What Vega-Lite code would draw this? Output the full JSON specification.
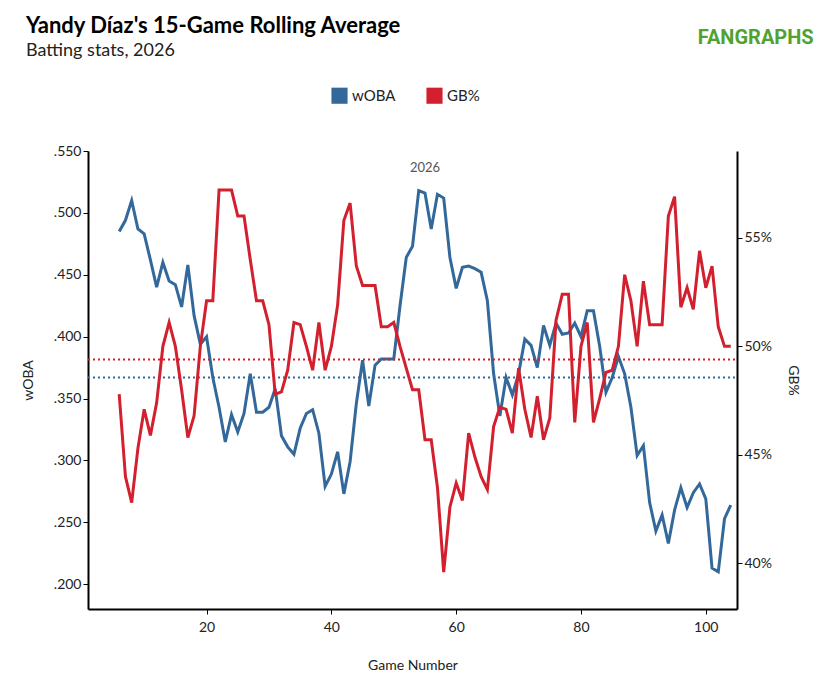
{
  "$schema": "https://vega.github.io/schema/vega-lite/v6.json",
  "autosize": "none",
  "width": 649,
  "height": 458,
  "padding": {"left": 88, "top": 151, "right": 103, "bottom": 77},
  "config": {
    "font": "Lato",
    "view": {"stroke": null},
    "axis": {"grid": false, "domainColor": "#000", "domainWidth": 2, "tickColor": "#000", "labelFontSize": 14, "labelColor": "#222", "titleFontSize": 14, "titleFontWeight": "normal", "titleColor": "#222"}
  },
  "title": {
    "text": "Yandy Díaz's 15-Game Rolling Average",
    "subtitle": "Batting stats, 2026",
    "anchor": "start",
    "frame": "group",
    "dx": -62,
    "offset": -33,
    "fontSize": 22,
    "fontWeight": "bold",
    "subtitleFontSize": 18,
    "subtitleColor": "#222",
    "subtitlePadding": 4
  },
  "data": {
    "values": [
      {"game": 6, "woba": 0.485, "gb": 47.8}, {"game": 7, "woba": 0.494, "gb": 44.0}, {"game": 8, "woba": 0.510, "gb": 42.8},
      {"game": 9, "woba": 0.487, "gb": 45.3}, {"game": 10, "woba": 0.483, "gb": 47.1}, {"game": 11, "woba": 0.462, "gb": 45.9},
      {"game": 12, "woba": 0.440, "gb": 47.4}, {"game": 13, "woba": 0.460, "gb": 50.0}, {"game": 14, "woba": 0.445, "gb": 51.1},
      {"game": 15, "woba": 0.442, "gb": 50.0}, {"game": 16, "woba": 0.424, "gb": 48.0}, {"game": 17, "woba": 0.458, "gb": 45.8},
      {"game": 18, "woba": 0.417, "gb": 46.8}, {"game": 19, "woba": 0.394, "gb": 50.0}, {"game": 20, "woba": 0.400, "gb": 52.1},
      {"game": 21, "woba": 0.367, "gb": 52.1}, {"game": 22, "woba": 0.343, "gb": 57.2}, {"game": 23, "woba": 0.315, "gb": 57.2},
      {"game": 24, "woba": 0.337, "gb": 57.2}, {"game": 25, "woba": 0.323, "gb": 56.0}, {"game": 26, "woba": 0.338, "gb": 56.0},
      {"game": 27, "woba": 0.370, "gb": 54.0}, {"game": 28, "woba": 0.339, "gb": 52.1}, {"game": 29, "woba": 0.339, "gb": 52.1},
      {"game": 30, "woba": 0.343, "gb": 51.0}, {"game": 31, "woba": 0.358, "gb": 47.8}, {"game": 32, "woba": 0.320, "gb": 47.9},
      {"game": 33, "woba": 0.311, "gb": 48.9}, {"game": 34, "woba": 0.305, "gb": 51.1}, {"game": 35, "woba": 0.326, "gb": 51.0},
      {"game": 36, "woba": 0.338, "gb": 50.0}, {"game": 37, "woba": 0.341, "gb": 48.9}, {"game": 38, "woba": 0.322, "gb": 51.1},
      {"game": 39, "woba": 0.279, "gb": 48.9}, {"game": 40, "woba": 0.289, "gb": 50.0}, {"game": 41, "woba": 0.307, "gb": 51.9},
      {"game": 42, "woba": 0.273, "gb": 55.8}, {"game": 43, "woba": 0.299, "gb": 56.6}, {"game": 44, "woba": 0.346, "gb": 53.7},
      {"game": 45, "woba": 0.381, "gb": 52.8}, {"game": 46, "woba": 0.344, "gb": 52.8}, {"game": 47, "woba": 0.377, "gb": 52.8},
      {"game": 48, "woba": 0.382, "gb": 50.9}, {"game": 49, "woba": 0.382, "gb": 50.9}, {"game": 50, "woba": 0.382, "gb": 51.1},
      {"game": 51, "woba": 0.425, "gb": 50.0}, {"game": 52, "woba": 0.464, "gb": 49.0}, {"game": 53, "woba": 0.473, "gb": 48.0},
      {"game": 54, "woba": 0.518, "gb": 48.0}, {"game": 55, "woba": 0.516, "gb": 45.7}, {"game": 56, "woba": 0.487, "gb": 45.7},
      {"game": 57, "woba": 0.515, "gb": 43.5}, {"game": 58, "woba": 0.512, "gb": 39.6}, {"game": 59, "woba": 0.464, "gb": 42.6},
      {"game": 60, "woba": 0.439, "gb": 43.7}, {"game": 61, "woba": 0.456, "gb": 42.9}, {"game": 62, "woba": 0.457, "gb": 46.0},
      {"game": 63, "woba": 0.455, "gb": 44.9}, {"game": 64, "woba": 0.452, "gb": 44.0}, {"game": 65, "woba": 0.429, "gb": 43.4},
      {"game": 66, "woba": 0.370, "gb": 46.3}, {"game": 67, "woba": 0.336, "gb": 47.2}, {"game": 68, "woba": 0.367, "gb": 47.1},
      {"game": 69, "woba": 0.353, "gb": 46.0}, {"game": 70, "woba": 0.370, "gb": 49.0}, {"game": 71, "woba": 0.398, "gb": 47.1},
      {"game": 72, "woba": 0.393, "gb": 45.8}, {"game": 73, "woba": 0.375, "gb": 47.7}, {"game": 74, "woba": 0.409, "gb": 45.7},
      {"game": 75, "woba": 0.393, "gb": 46.7}, {"game": 76, "woba": 0.411, "gb": 51.2}, {"game": 77, "woba": 0.402, "gb": 52.4},
      {"game": 78, "woba": 0.403, "gb": 52.4}, {"game": 79, "woba": 0.411, "gb": 46.5}, {"game": 80, "woba": 0.400, "gb": 50.0},
      {"game": 81, "woba": 0.421, "gb": 51.1}, {"game": 82, "woba": 0.421, "gb": 46.5}, {"game": 83, "woba": 0.392, "gb": 47.6},
      {"game": 84, "woba": 0.355, "gb": 48.8}, {"game": 85, "woba": 0.367, "gb": 48.9}, {"game": 86, "woba": 0.384, "gb": 50.0},
      {"game": 87, "woba": 0.370, "gb": 53.3}, {"game": 88, "woba": 0.343, "gb": 52.1}, {"game": 89, "woba": 0.304, "gb": 50.0},
      {"game": 90, "woba": 0.312, "gb": 53.0}, {"game": 91, "woba": 0.266, "gb": 51.0}, {"game": 92, "woba": 0.243, "gb": 51.0},
      {"game": 93, "woba": 0.256, "gb": 51.0}, {"game": 94, "woba": 0.233, "gb": 56.0}, {"game": 95, "woba": 0.260, "gb": 56.9},
      {"game": 96, "woba": 0.278, "gb": 51.8}, {"game": 97, "woba": 0.262, "gb": 52.7}, {"game": 98, "woba": 0.274, "gb": 51.7},
      {"game": 99, "woba": 0.281, "gb": 54.4}, {"game": 100, "woba": 0.269, "gb": 52.7}, {"game": 101, "woba": 0.213, "gb": 53.7},
      {"game": 102, "woba": 0.210, "gb": 50.9}, {"game": 103, "woba": 0.253, "gb": 50.0}, {"game": 104, "woba": 0.264, "gb": 50.0}
    ]
  },
  "encoding": {
    "x": {
      "field": "game", "type": "quantitative",
      "scale": {"domain": [1, 105], "nice": false},
      "axis": {"values": [20, 40, 60, 80, 100], "title": "Game Number", "titlePadding": 24, "labelPadding": 6}
    }
  },
  "layer": [
    {
      "encoding": {
        "y": {"type": "quantitative", "scale": {"domain": [0.18, 0.55], "nice": false}, "axis": {"orient": "left", "title": "wOBA", "values": [0.2, 0.25, 0.3, 0.35, 0.4, 0.45, 0.5, 0.55], "labelExpr": "replace(format(datum.value, '.3f'), '0.', '.')", "titlePadding": 18}}
      },
      "layer": [
        {
          "mark": {"type": "line", "strokeWidth": 3},
          "encoding": {
            "y": {"field": "woba"},
            "color": {
              "datum": "wOBA",
              "scale": {"domain": ["wOBA", "GB%"], "range": ["#33689b", "#d2202f"]},
              "legend": {
                "title": null, "orient": "none", "legendX": 243, "legendY": -64, "direction": "horizontal",
                "symbolType": "square", "symbolSize": 260, "symbolStrokeWidth": 0, "labelFontSize": 15, "labelColor": "#222", "columnPadding": 30,
                "encode": {"symbols": {"update": {"fill": {"scale": "color", "field": "value"}, "fillOpacity": {"value": 1}}}}
              }
            }
          }
        },
        {
          "data": {"values": [{"avg": 0.367}]},
          "mark": {"type": "rule", "strokeDash": [2, 3], "strokeWidth": 2, "color": "#33689b"},
          "encoding": {"y": {"field": "avg"}, "x": {"value": 0}, "x2": {"value": 649}}
        },
        {
          "data": {"values": [{"label": "2026", "g": 55, "v": 0.536}]},
          "mark": {"type": "text", "fontSize": 13, "color": "#555"},
          "encoding": {"x": {"field": "g", "type": "quantitative"}, "y": {"field": "v"}, "text": {"field": "label"}}
        },
        {
          "data": {"values": [{"label": "FANGRAPHS", "g": 108, "v": 0.641}]},
          "mark": {"type": "text", "fontSize": 20, "fontWeight": "bold", "color": "#4fa32e", "font": "Roboto", "letterSpacing": -0.5},
          "encoding": {"x": {"field": "g", "type": "quantitative"}, "y": {"field": "v"}, "text": {"field": "label"}}
        }
      ]
    },
    {
      "encoding": {
        "y": {"type": "quantitative", "scale": {"domain": [37.9, 59], "nice": false}, "axis": {"orient": "right", "title": "GB%", "values": [40, 45, 50, 55], "labelExpr": "datum.value + '%'", "titlePadding": 14}}
      },
      "layer": [
        {
          "mark": {"type": "line", "strokeWidth": 3},
          "encoding": {"y": {"field": "gb"}, "color": {"datum": "GB%"}}
        },
        {
          "data": {"values": [{"avg": 49.4}]},
          "mark": {"type": "rule", "strokeDash": [2, 3], "strokeWidth": 2, "color": "#d2202f"},
          "encoding": {"y": {"field": "avg"}, "x": {"value": 0}, "x2": {"value": 649}}
        }
      ]
    }
  ],
  "resolve": {"scale": {"y": "independent"}}
}
